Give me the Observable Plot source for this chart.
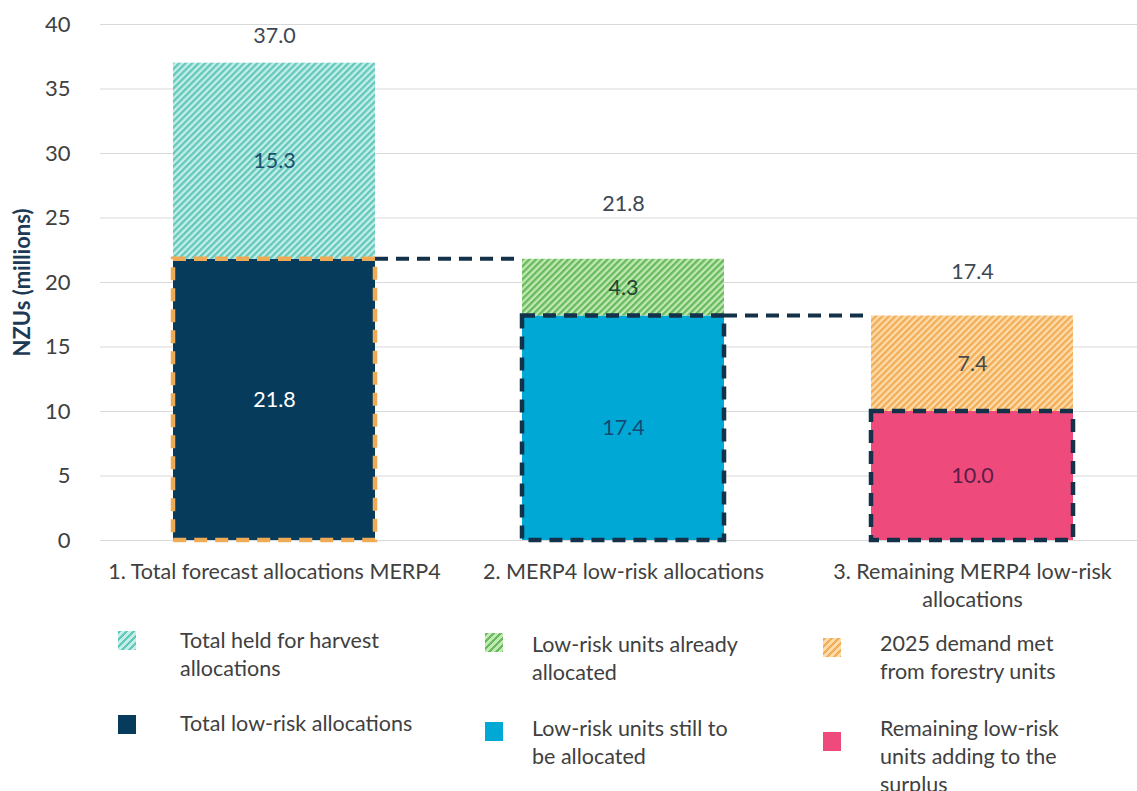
<!DOCTYPE html>
<html><head><meta charset="utf-8">
<script src="https://cdn.jsdelivr.net/npm/d3@7"></script>
<script src="https://cdn.jsdelivr.net/npm/@observablehq/plot@0.6"></script>
<style>
html,body{margin:0;padding:0;background:#fff;}
#wrap{width:1137px;height:791px;overflow:hidden;position:relative;font-family:Lato,"Open Sans",sans-serif;}
#legend{position:relative;height:176px;}
.sw{position:absolute;}
.lab{position:absolute;font-size:21.5px;line-height:28px;color:#404040;white-space:pre;}
</style></head><body><div id="wrap"><div id="chart"></div><div id="legend"></div></div>
<script>
// ---- data ----
const categories = ["1. Total forecast allocations MERP4", "2. MERP4 low-risk allocations", "3. Remaining MERP4 low-risk\nallocations"];
const lowerSeries = ["Total low-risk allocations", "Low-risk units still to\nbe allocated", "Remaining low-risk\nunits adding to the\nsurplus"];
const upperSeries = ["Total held for harvest\nallocations", "Low-risk units already\nallocated", "2025 demand met\nfrom forestry units"];
const lowerValues = [21.8, 17.4, 10.0];
const upperValues = [15.3, 4.3, 7.4];
const totals = [37.0, 21.8, 17.4];
const totalLabelAt = [39.1, 26.1, 20.8];
const yTicks = [0, 5, 10, 15, 20, 25, 30, 35, 40];

// ---- styles ----
const hatch = [
  {id: "hTeal", bg: "#c6eee9", fg: "#62c8bc"},
  {id: "hGreen", bg: "#c2e8b4", fg: "#67ba5d"},
  {id: "hOrange", bg: "#fddcab", fg: "#f2ad56"}
];
const upperFill = hatch.map(h => `url(#${h.id})`);
const lowerFill = ["#073b5c", "#00a8d6", "#ef4a7c"];
const lowerText = ["#ffffff", "#164a70", "#5a1f47"];
const upperText = ["#1e506b", "#23452f", "#4a4a4a"];
const outlineColor = ["#efaa55", "#13324a", "#13324a"];
const navy = "#13324a";
const FS = 21.5;

const segments = categories.flatMap((c, i) => [
  {cat: c, series: lowerSeries[i], y1: 0, y2: lowerValues[i], value: lowerValues[i], color: lowerText[i], i},
  {cat: c, series: upperSeries[i], y1: lowerValues[i], y2: totals[i], value: upperValues[i], color: upperText[i], i}
]);
const lowerSegs = segments.filter((d, k) => k % 2 === 0);

function defsMark() {
  const defs = d3.create("svg:defs");
  for (const h of hatch) {
    const p = defs.append("pattern").attr("id", h.id).attr("patternUnits", "userSpaceOnUse")
      .attr("width", 4.6).attr("height", 4.6).attr("patternTransform", "rotate(45)");
    p.append("rect").attr("width", 4.6).attr("height", 4.6).attr("fill", h.bg);
    p.append("rect").attr("width", 2.3).attr("height", 4.6).attr("fill", h.fg);
  }
  return defs.node();
}

function connectorMark(index, scales) {
  const x = scales.x, y = scales.y, bw = x.bandwidth();
  const g = d3.create("svg:g");
  for (let i = 0; i < categories.length - 1; i++) {
    g.append("line")
      .attr("x1", x(categories[i]) + bw).attr("x2", x(categories[i + 1]))
      .attr("y1", y(lowerValues[i])).attr("y2", y(lowerValues[i]))
      .attr("stroke", navy).attr("stroke-width", 4).attr("stroke-dasharray", "13,8");
  }
  return g.node();
}

const chart = Plot.plot({
  width: 1137, height: 615,
  marginLeft: 100, marginRight: 0, marginTop: 24, marginBottom: 75,
  style: {fontFamily: "Lato, 'Open Sans', sans-serif", fontSize: "22px", color: "#404040", background: "white"},
  x: {domain: categories, range: [100, 1147], paddingInner: 0.42, paddingOuter: 0.21, axis: null},
  y: {domain: [0, 40], ticks: yTicks, tickSize: 0, tickPadding: 30, label: null},
  color: {domain: [...lowerSeries, ...upperSeries], range: [...lowerFill, ...upperFill]},
  marks: [
    defsMark,
    Plot.ruleY(yTicks, {stroke: "#d9d9d9", strokeWidth: 1}),
    Plot.barY(segments, {x: "cat", y1: "y1", y2: "y2", fill: "series"}),
    connectorMark,
    ...lowerSegs.map(s => Plot.barY([s], {x: "cat", y1: "y1", y2: "y2", fill: "none", stroke: outlineColor[s.i], strokeWidth: 4.5, strokeDasharray: "13,8"})),
    ...segments.map(s => Plot.text([s], {x: "cat", y: d => (d.y1 + d.y2) / 2, text: d => d.value.toFixed(1), fill: s.color, fontSize: FS})),
    Plot.text(categories, {x: d => d, y: (d, i) => totalLabelAt[i], text: (d, i) => totals[i].toFixed(1), fill: "#3d4852", fontSize: FS}),
    Plot.text(categories, {x: d => d, text: d => d, frameAnchor: "bottom", dy: 19, lineAnchor: "top", lineHeight: 1.3, fontSize: FS, fill: "#404040"}),
    Plot.text(["NZUs (millions)"], {frameAnchor: "left", textAnchor: "middle", dx: -78, rotate: -90, fontWeight: "bold", fontSize: 22, fill: "#1d3a55"})
  ]
});
document.getElementById("chart").appendChild(chart);

// ---- legend ----
const legendItems = [
  {label: upperSeries[0], sw: hatch[0], x: 118, y: 16, tx: 180, ty: 11},
  {label: lowerSeries[0], fill: lowerFill[0], x: 118, y: 100, tx: 180, ty: 94},
  {label: upperSeries[1], sw: hatch[1], x: 485, y: 18, tx: 532, ty: 15},
  {label: lowerSeries[1], fill: lowerFill[1], x: 485, y: 107, tx: 532, ty: 99},
  {label: upperSeries[2], sw: hatch[2], x: 823, y: 23, tx: 880, ty: 14},
  {label: lowerSeries[2], fill: lowerFill[2], x: 823, y: 117, tx: 880, ty: 99}
];
const legend = document.getElementById("legend");
for (const it of legendItems) {
  const sw = document.createElement("div");
  sw.className = "sw";
  Object.assign(sw.style, {left: it.x + "px", top: it.y + "px", width: "18px", height: "19px"});
  sw.style.background = it.sw
    ? `repeating-linear-gradient(135deg, ${it.sw.fg} 0 2.5px, ${it.sw.bg} 2.5px 5px)`
    : it.fill;
  legend.appendChild(sw);
  const t = document.createElement("div");
  t.className = "lab";
  Object.assign(t.style, {left: it.tx + "px", top: it.ty + "px"});
  t.textContent = it.label;
  legend.appendChild(t);
}
</script></body></html>
